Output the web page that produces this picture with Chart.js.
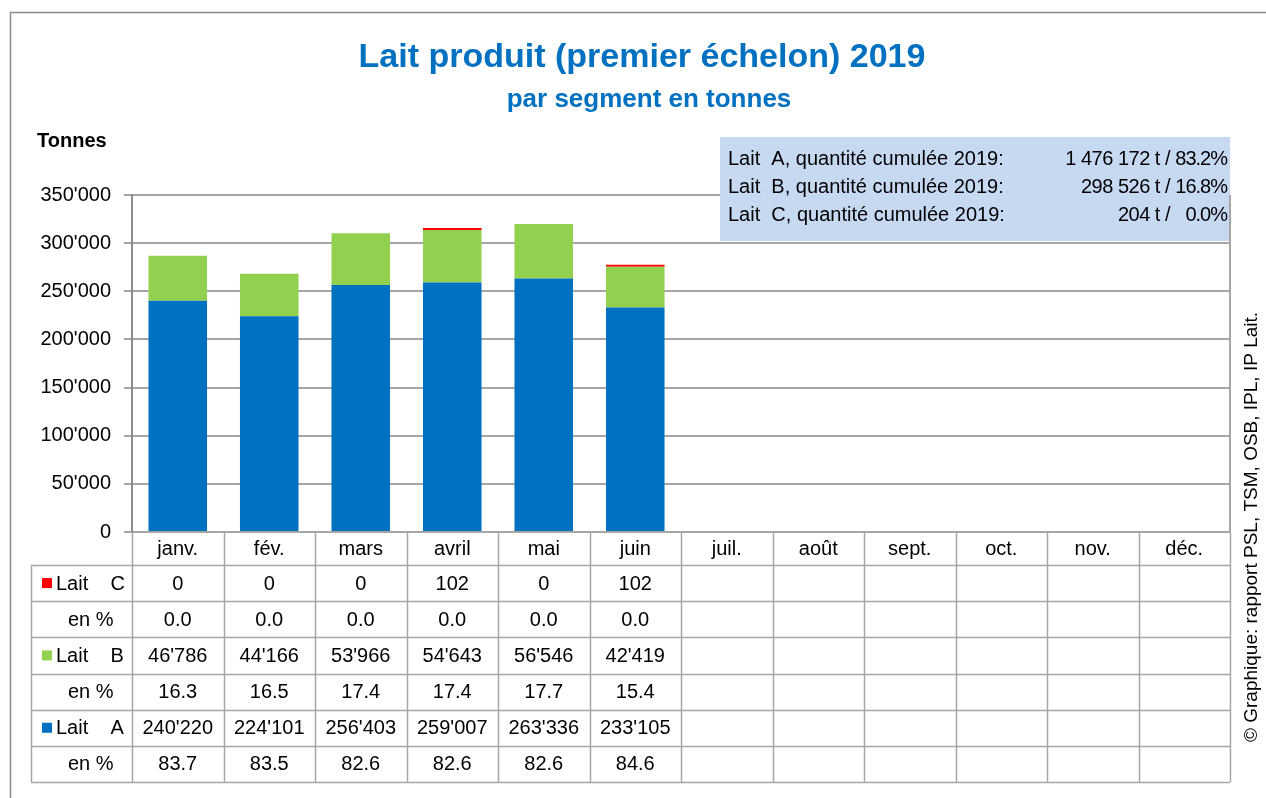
<!DOCTYPE html>
<html>
<head>
<meta charset="utf-8">
<script src="https://cdn.jsdelivr.net/npm/chart.js@4.4.1/dist/chart.umd.min.js"></script>
<style>
  html, body { margin: 0; padding: 0; background: #fff; }
</style>
</head>
<body>
<canvas id="milk-chart" width="1266" height="798"></canvas>
<script>
const months = ['janv.', 'fév.', 'mars', 'avril', 'mai', 'juin', 'juil.', 'août', 'sept.', 'oct.', 'nov.', 'déc.'];

// tonnes per month (only Jan-Jun published)
const laitA = [240220, 224101, 256403, 259007, 263336, 233105];
const laitB = [46786, 44166, 53966, 54643, 56546, 42419];
const laitC = [0, 0, 0, 102, 0, 102];

// share of the month, as printed in the table
const pctA = ['83.7', '83.5', '82.6', '82.6', '82.6', '84.6'];
const pctB = ['16.3', '16.5', '17.4', '17.4', '17.7', '15.4'];
const pctC = ['0.0', '0.0', '0.0', '0.0', '0.0', '0.0'];

// cumulated 2019 box
const cumulLabels = ['Lait  A, quantité cumulée 2019:', 'Lait  B, quantité cumulée 2019:', 'Lait  C, quantité cumulée 2019:'];
const cumulTonnes = ['1 476 172', '298 526', '204'];
const cumulPct = ['83.2', '16.8', '0.0'];

const yTicks = [0, 50000, 100000, 150000, 200000, 250000, 300000, 350000];

const FONT = '"Liberation Sans", Arial, sans-serif';
const BLUE = '#0070C0';
const GREEN = '#92D050';
const RED = '#FF0000';
const GRID = '#A6A6A6';

const fmt = (v) => String(v).replace(/\B(?=(\d{3})+(?!\d))/g, "'");

const tableRows = [
  { key: RED, label: 'Lait    C', values: laitC.map(fmt) },
  { label: 'en %', values: pctC },
  { key: GREEN, label: 'Lait    B', values: laitB.map(fmt) },
  { label: 'en %', values: pctB },
  { key: BLUE, label: 'Lait    A', values: laitA.map(fmt) },
  { label: 'en %', values: pctA },
];

const extras = {
  id: 'extras',
  afterDraw(chart) {
    const ctx = chart.ctx;
    const area = chart.chartArea;
    const x = chart.scales.x;
    const colW = (area.right - area.left) / months.length;
    const headBottom = 565;
    const tableBottom = 782;
    const rowH = (tableBottom - headBottom) / tableRows.length;
    const tableLeft = 31;

    ctx.save();

    // outer frame
    ctx.strokeStyle = '#8C8C8C';
    ctx.lineWidth = 1.5;
    ctx.strokeRect(10.5, 12.5, 1400, 1000);

    // titles
    ctx.fillStyle = BLUE;
    ctx.textAlign = 'center';
    ctx.textBaseline = 'middle';
    ctx.font = 'bold 34px ' + FONT;
    ctx.fillText('Lait produit (premier échelon) 2019', 642, 58);
    ctx.font = 'bold 26px ' + FONT;
    ctx.fillText('par segment en tonnes', 649, 100);

    ctx.fillStyle = '#000';
    ctx.textAlign = 'left';
    ctx.font = 'bold 20px ' + FONT;
    ctx.fillText('Tonnes', 37, 141);

    // cumulated box
    ctx.fillStyle = '#C6D9F1';
    ctx.fillRect(720, 137, 510, 104);
    ctx.fillStyle = '#000';
    ctx.font = '20px ' + FONT;
    cumulLabels.forEach((label, i) => {
      const y = 159 + i * 28;
      ctx.letterSpacing = '0px';
      ctx.textAlign = 'left';
      ctx.fillText(label, 728, y);
      ctx.textAlign = 'right';
      ctx.letterSpacing = '-0.5px';
      ctx.fillText(cumulTonnes[i] + ' t /', 1170, y);
      ctx.letterSpacing = '-1px';
      ctx.fillText(cumulPct[i] + '%', 1227, y);
    });
    ctx.letterSpacing = '0px';

    // right border of plot
    ctx.strokeStyle = GRID;
    ctx.lineWidth = 2;
    ctx.beginPath();
    ctx.moveTo(area.right, area.top);
    ctx.lineTo(area.right, area.bottom);
    ctx.stroke();

    // data table grid
    ctx.lineWidth = 1.5;
    ctx.beginPath();
    for (let i = 0; i <= months.length; i++) {
      const cx = Math.round(area.left + i * colW) + 0.5;
      ctx.moveTo(cx, area.bottom);
      ctx.lineTo(cx, tableBottom);
    }
    ctx.moveTo(tableLeft + 0.5, headBottom);
    ctx.lineTo(tableLeft + 0.5, tableBottom);
    for (let r = 0; r <= tableRows.length; r++) {
      const ry = Math.round(headBottom + r * rowH) + 0.5;
      ctx.moveTo(tableLeft, ry);
      ctx.lineTo(area.right, ry);
    }
    ctx.stroke();

    // month header
    ctx.fillStyle = '#000';
    ctx.font = '20px ' + FONT;
    ctx.textAlign = 'center';
    months.forEach((m, i) => {
      ctx.fillText(m, x.getPixelForValue(i), (area.bottom + headBottom) / 2 + 1);
    });

    // rows
    tableRows.forEach((row, r) => {
      const cy = headBottom + (r + 0.5) * rowH + 1;
      if (row.key) {
        ctx.fillStyle = row.key;
        ctx.fillRect(42, cy - 6, 10, 10);
        ctx.fillStyle = '#000';
        ctx.textAlign = 'left';
        ctx.fillText(row.label, 56, cy);
      } else {
        ctx.textAlign = 'left';
        ctx.fillText(row.label, 68, cy);
      }
      ctx.textAlign = 'center';
      row.values.forEach((v, i) => {
        ctx.fillText(v, x.getPixelForValue(i), cy);
      });
    });

    // source, vertical
    ctx.translate(1252, 527);
    ctx.rotate(-Math.PI / 2);
    ctx.font = '19px ' + FONT;
    ctx.textAlign = 'center';
    ctx.fillText('© Graphique: rapport PSL, TSM, OSB, IPL, IP Lait.', 0, 0);

    ctx.restore();
  },
};

new Chart(document.getElementById('milk-chart'), {
  type: 'bar',
  data: {
    labels: months,
    datasets: [
      { label: 'Lait A', data: laitA, backgroundColor: BLUE },
      { label: 'Lait B', data: laitB, backgroundColor: GREEN },
      // zero months left out so the minimum bar length only shows real values
      { label: 'Lait C', data: laitC.map((v) => (v === 0 ? null : v)), backgroundColor: RED, minBarLength: 2 },
    ],
  },
  options: {
    responsive: false,
    animation: false,
    layout: { padding: { top: 195, right: 36, bottom: 266, left: 0 } },
    datasets: { bar: { categoryPercentage: 1, barPercentage: 0.64, borderWidth: 0 } },
    plugins: { legend: { display: false }, tooltip: { enabled: false }, title: { display: false } },
    scales: {
      x: {
        stacked: true,
        grid: { display: false },
        border: { display: false },
        ticks: { display: false },
        afterFit: (scale) => { scale.height = 0; },
      },
      y: {
        stacked: true,
        min: 0,
        max: 350000,
        afterBuildTicks: (scale) => { scale.ticks = yTicks.map((v) => ({ value: v })); },
        afterFit: (scale) => { scale.width = 132; },
        grid: { color: GRID, lineWidth: 2, tickLength: 8 },
        border: { color: '#8C8C8C', width: 2 },
        ticks: {
          padding: 13,
          color: '#000',
          font: { family: FONT, size: 20 },
          callback: (v) => fmt(v),
        },
      },
    },
  },
  plugins: [extras],
});
</script>
</body>
</html>
